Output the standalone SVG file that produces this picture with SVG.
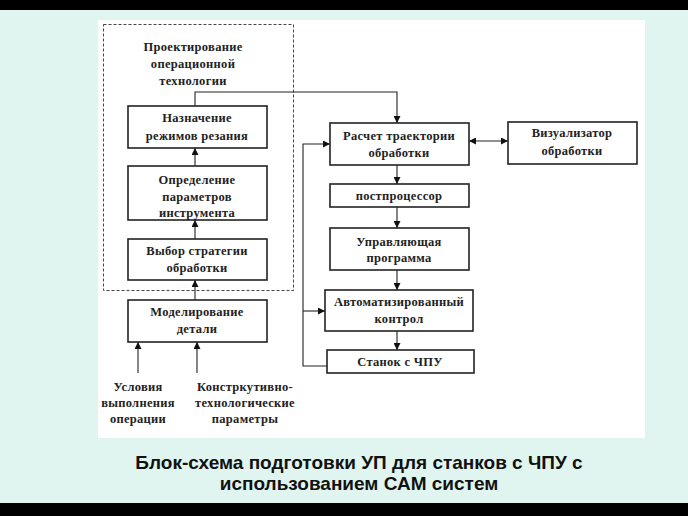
<svg xmlns="http://www.w3.org/2000/svg" width="688" height="516" viewBox="0 0 688 516">
<defs>
<marker id="ah" viewBox="0 0 10 10" refX="10" refY="5" markerWidth="7" markerHeight="7" orient="auto-start-reverse" markerUnits="userSpaceOnUse">
<path d="M0,0 L10,5 L0,10 z" fill="#111"/>
</marker>
<style>
.box{fill:#fff;stroke:#222;stroke-width:1.6}
.t{font-family:"Liberation Serif","DejaVu Serif",serif;font-size:12.5px;fill:#222;text-anchor:middle;letter-spacing:0.3px;font-weight:bold}
.c{fill:none;stroke:#222;stroke-width:1.1}
.ca{fill:none;stroke:#222;stroke-width:1.1;marker-end:url(#ah)}
.cap{font-family:"Liberation Sans",Arial,sans-serif;font-size:19px;font-weight:bold;fill:#111;text-anchor:middle}
</style>
</defs>
<rect x="0" y="0" width="688" height="516" fill="#e0f5ef"/>
<rect x="0" y="0" width="688" height="10" fill="#000"/>
<rect x="0" y="503" width="688" height="13" fill="#000"/>
<rect x="98" y="20" width="547" height="418" fill="#fff"/>

<g id="design-group">
<rect x="103.5" y="24.5" width="190" height="266" fill="none" stroke="#444" stroke-width="1" stroke-dasharray="3,2"/>
<text class="t" x="193" y="51">Проектирование</text>
<text class="t" x="193" y="68">операционной</text>
<text class="t" x="193" y="85">технологии</text>
</g>

<g id="n-naznachenie">
<rect class="box" x="128" y="106" width="139" height="42"/>
<text class="t" x="197" y="122">Назначение</text>
<text class="t" x="197" y="140">режимов резания</text>
</g>
<g id="n-opredelenie">
<rect class="box" x="128" y="166" width="139" height="54"/>
<text class="t" x="197" y="184">Определение</text>
<text class="t" x="197" y="201">параметров</text>
<text class="t" x="197" y="217">инструмента</text>
</g>
<g id="n-vybor">
<rect class="box" x="128" y="239" width="139" height="41"/>
<text class="t" x="197" y="255">Выбор стратегии</text>
<text class="t" x="197" y="272">обработки</text>
</g>
<g id="n-modelirovanie">
<rect class="box" x="128" y="300" width="139" height="42"/>
<text class="t" x="197" y="316">Моделирование</text>
<text class="t" x="197" y="333">детали</text>
</g>
<g id="n-usloviya">
<text class="t" x="138" y="391">Условия</text>
<text class="t" x="138" y="407">выполнения</text>
<text class="t" x="138" y="423">операции</text>
</g>
<g id="n-konstr">
<text class="t" x="245" y="391">Констркутивно-</text>
<text class="t" x="245" y="407">технологические</text>
<text class="t" x="245" y="423">параметры</text>
</g>

<g id="n-raschet">
<rect class="box" x="330" y="123" width="139" height="42"/>
<text class="t" x="399" y="140">Расчет траектории</text>
<text class="t" x="399" y="157">обработки</text>
</g>
<g id="n-vizual">
<rect class="box" x="508" y="122" width="129" height="42"/>
<text class="t" x="572" y="137">Визуализатор</text>
<text class="t" x="572" y="155">обработки</text>
</g>
<g id="n-post">
<rect class="box" x="330" y="184" width="139" height="23"/>
<text class="t" x="399" y="200">постпроцессор</text>
</g>
<g id="n-upr">
<rect class="box" x="330" y="228" width="139" height="42"/>
<text class="t" x="399" y="246">Управляющая</text>
<text class="t" x="399" y="262">программа</text>
</g>
<g id="n-avtomat">
<rect class="box" x="325" y="290" width="148" height="41"/>
<text class="t" x="399" y="306">Автоматизированный</text>
<text class="t" x="399" y="323">контрол</text>
</g>
<g id="n-stanok">
<rect class="box" x="327" y="350" width="147" height="23"/>
<text class="t" x="400" y="366">Станок с ЧПУ</text>
</g>

<g id="connectors">
<path class="ca" d="M195,166 V148"/>
<path class="ca" d="M195,239 V220"/>
<path class="ca" d="M195,300 V280"/>
<path class="ca" d="M138,373 V342"/>
<path class="ca" d="M197,373 V342"/>
<path class="ca" d="M195,106 V92 H397 V123"/>
<path class="ca" d="M397,165 V184"/>
<path class="ca" d="M397,207 V228"/>
<path class="ca" d="M397,270 V290"/>
<path class="ca" d="M397,331 V350"/>
<path class="c" d="M469,141 H508" marker-start="url(#ah)" marker-end="url(#ah)"/>
<path class="ca" d="M327,366 H303 V144 H330"/>
<path class="ca" d="M303,311 H325"/>
</g>

<g id="caption">
<text class="cap" x="359" y="469">Блок-схема подготовки УП для станков с ЧПУ с</text>
<text class="cap" x="359" y="490">использованием САМ систем</text>
</g>
</svg>
